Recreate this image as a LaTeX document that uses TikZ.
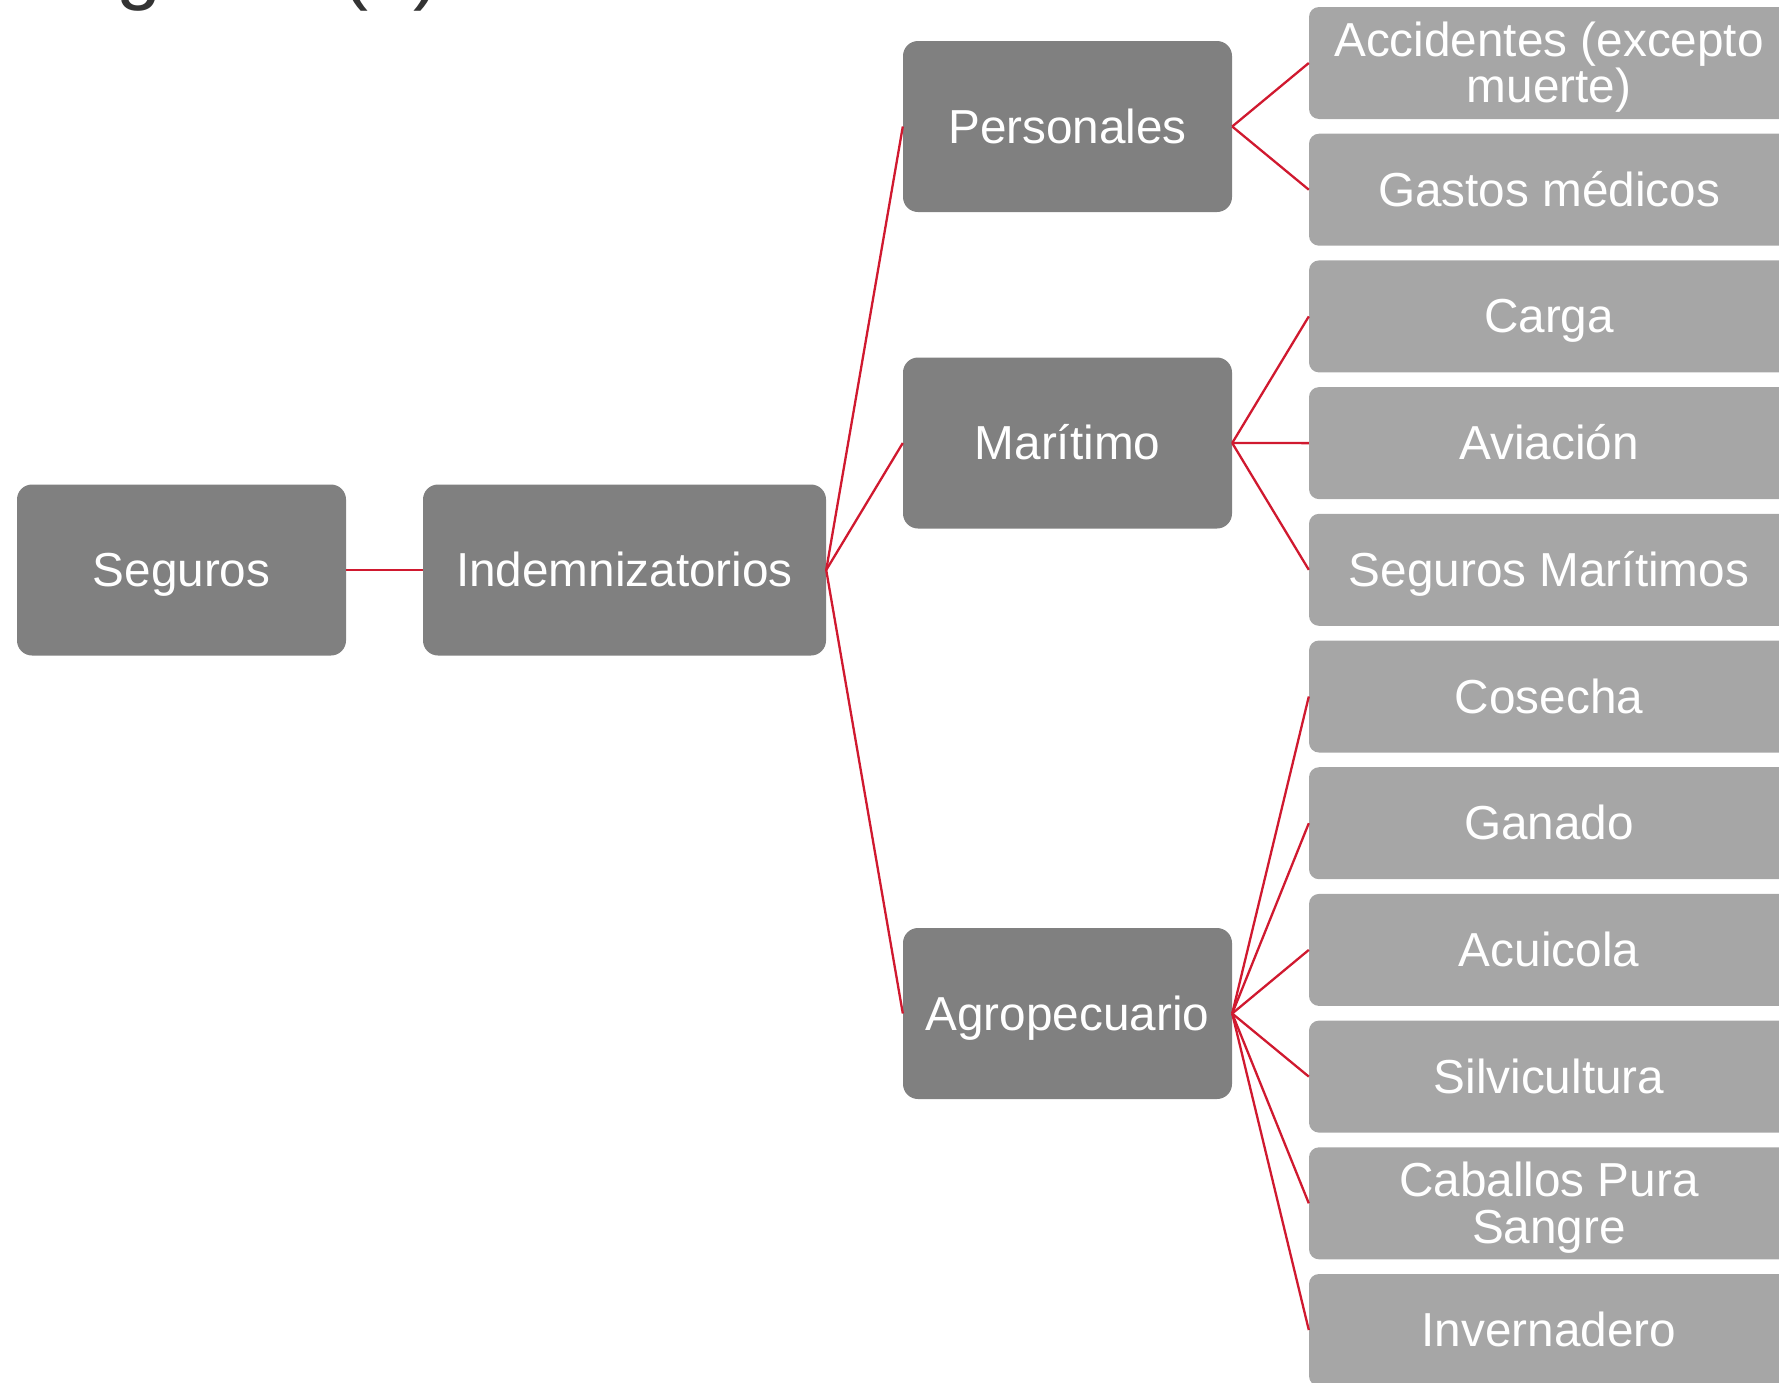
\documentclass[tikz,border=0pt]{standalone}
\usepackage{fontspec}
\setmainfont{Liberation Sans}
\definecolor{dk}{HTML}{808080}
\definecolor{lt}{HTML}{A6A6A6}
\definecolor{ln}{HTML}{D0192F}
\definecolor{tt}{HTML}{333333}
\begin{document}
\begin{tikzpicture}[x=1pt,y=-1pt,
  box/.style={rectangle, rounded corners=15pt, fill=dk, text=white,
    minimum width=329pt, minimum height=171pt, inner sep=0pt,
    font=\fontsize{47.7}{48}\selectfont, align=center,
    text height=43.2pt, text depth=10.1pt},
  leaf/.style={rectangle, rounded corners=10pt, fill=lt, text=white,
    minimum width=480pt, minimum height=112pt, inner sep=0pt,
    font=\fontsize{47.7}{46.5}\selectfont, align=center,
    text height=43.2pt, text depth=10.1pt},
  leaftwo/.style={leaf, text height=89.7pt, text depth=10.1pt},
  link/.style={draw=ln, line width=2.3pt}]
\useasboundingbox (0,0) rectangle (1779,1382);
\clip (0,0) rectangle (1779,1382);
\node[anchor=base west, inner sep=0pt, text=tt, font=\fontsize{81}{81}\selectfont] (title) at (17,-6) {Seguros (2)};
\node[box] (seg) at (181.5,570) {Seguros};
\node[box, minimum width=403pt] (ind) at (624.5,570) {Indemnizatorios};
\node[box] (per) at (1067.5,126.5) {Personales};
\node[box] (mar) at (1067.5,443) {Marítimo};
\node[box] (agr) at (1067.5,1013.5) {Agropecuario};
\node[leaftwo] (l1) at (1549,63) {Accidentes (excepto\\muerte)};
\node[leaf] (l2) at (1549,189.7) {Gastos médicos};
\node[leaf] (l3) at (1549,316.4) {Carga};
\node[leaf] (l4) at (1549,443.1) {Aviación};
\node[leaf] (l5) at (1549,569.8) {Seguros Marítimos};
\node[leaf] (l6) at (1549,696.5) {Cosecha};
\node[leaf] (l7) at (1549,823.2) {Ganado};
\node[leaf] (l8) at (1549,949.9) {Acuicola};
\node[leaf] (l9) at (1549,1076.6) {Silvicultura};
\node[leaftwo] (l10) at (1549,1203.3) {Caballos Pura\\Sangre};
\node[leaf] (l11) at (1549,1330) {Invernadero};
\draw[link] (seg.east) -- (ind.west);
\foreach \c in {per,mar,agr} \draw[link] (ind.east) -- (\c.west);
\foreach \c in {l1,l2} \draw[link] (per.east) -- (\c.west);
\foreach \c in {l3,l4,l5} \draw[link] (mar.east) -- (\c.west);
\foreach \c in {l6,l7,l8,l9,l10,l11} \draw[link] (agr.east) -- (\c.west);
\end{tikzpicture}
\end{document}
